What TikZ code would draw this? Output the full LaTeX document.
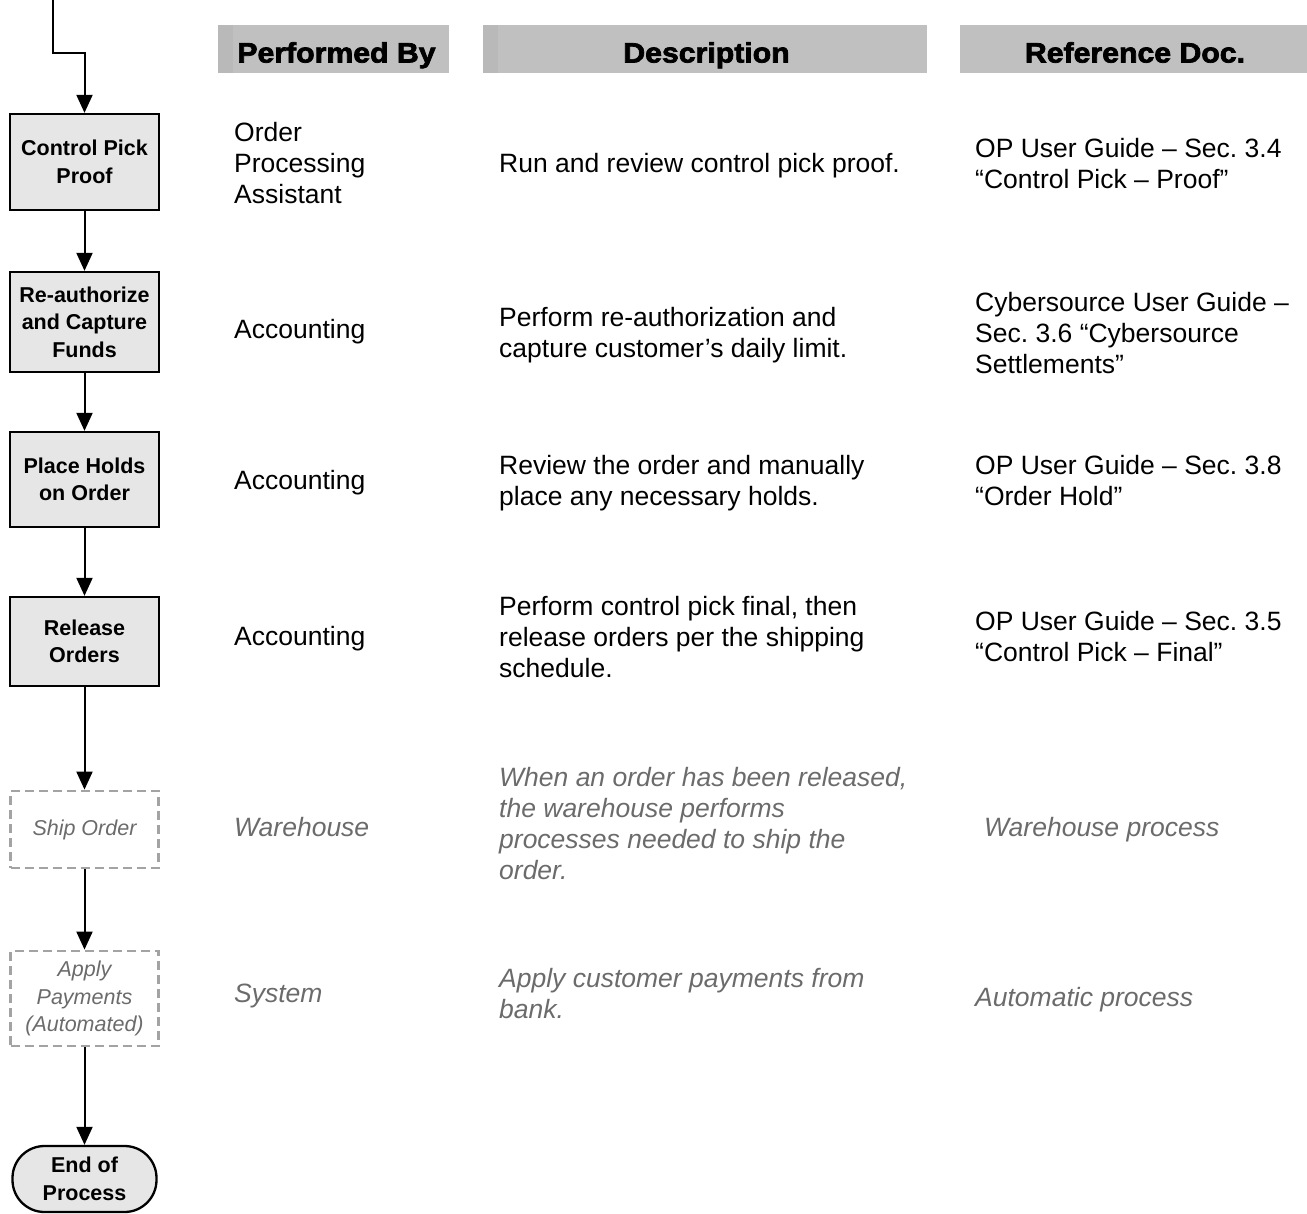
\documentclass[tikz,border=0pt]{standalone}
\usepackage{fontspec}
\setmainfont{Liberation Sans}
\newfontfamily\hdrfont[FakeBold=2.6,FakeStretch=1.08]{Liberation Sans Bold}
\usetikzlibrary{arrows.meta}

\definecolor{boxfill}{HTML}{E6E6E6}
\definecolor{hdrgray}{HTML}{C0C0C0}
\definecolor{hdrstrip}{HTML}{B9B9B9}
\definecolor{softtext}{HTML}{6B6B6B}
\definecolor{dashgray}{HTML}{A3A3A3}

\frenchspacing
\begin{document}
\begin{tikzpicture}[x=1pt,y=-1pt,
  stepbox/.style={draw=black, line width=2.3pt, fill=boxfill,
    minimum width=149pt, minimum height=#1, inner sep=0pt, align=center,
    font=\fontsize{21.5}{27.5}\selectfont\bfseries},
  autobox/.style={draw=dashgray, line width=2.8pt, dash pattern=on 9pt off 5pt,
    minimum width=148pt, minimum height=#1, inner sep=0pt, align=center,
    text=softtext, font=\fontsize{21.5}{27.5}\selectfont\itshape},
  endbox/.style={draw=black, line width=2.3pt, fill=boxfill, rounded corners=32pt,
    minimum width=144pt, minimum height=66pt, inner sep=0pt, align=center,
    font=\fontsize{21.5}{27.5}\selectfont\bfseries},
  flow/.style={line width=2pt, -{Triangle[width=16pt,length=18pt]}},
  hdrtext/.style={font=\hdrfont\fontsize{28}{32}\selectfont, inner sep=0pt, anchor=base},
  cell/.style={anchor=west, align=left, inner sep=0pt,
    font=\fontsize{26.5}{31}\selectfont},
  softcell/.style={cell, text=softtext, font=\fontsize{26.5}{31}\selectfont\itshape}
]
\useasboundingbox (0,0) rectangle (1307,1214);

% column header bars
\fill[hdrgray] (218,25) rectangle (449,73);
\fill[hdrstrip] (218,25) rectangle (233,73);
\fill[hdrgray] (483,25) rectangle (927,73);
\fill[hdrstrip] (483,25) rectangle (498,73);
\fill[hdrgray] (960,25) rectangle (1307,73);
\node[hdrtext] (hPerf) at (336.5,62.5) {Performed By};
\node[hdrtext] (hDesc) at (706.5,62.5) {Description};
\node[hdrtext] (hRef)  at (1135,62.5) {Reference Doc.};

% process steps
\node[stepbox=96pt]  (b1) at (84.5,162)   {Control Pick\\Proof};
\node[stepbox=100pt] (b2) at (84.5,322)   {Re-authorize\\and Capture\\Funds};
\node[stepbox=95pt]  (b3) at (84.5,479.5) {Place Holds\\on Order};
\node[stepbox=89pt]  (b4) at (84.5,641.5) {Release\\Orders};
\node[autobox=77pt]  (b5) at (84.5,829.5) {\raisebox{-2pt}{Ship Order}};
\node[autobox=95pt]  (b6) at (84.5,998.5) {Apply\\Payments\\(Automated)};
\node[endbox]        (b7) at (84.5,1179)  {End of\\Process};

% connectors
\coordinate (entry) at (53,0);
\coordinate (jog) at (84.5,53);
\draw[flow] (entry) |- (jog) -- (b1);
\draw[flow] (b1) -- (b2);
\draw[flow] (b2) -- (b3);
\draw[flow] (b3) -- (b4);
\draw[flow] (b4) -- (b5);
\draw[flow] (b5) -- (b6);
\draw[flow] (b6) -- (b7);

% performed by
\node[cell] (p1) at (234,163.5) {Order\\Processing\\Assistant};
\node[cell] (p2) at (234,332) {Accounting};
\node[cell] (p3) at (234,483) {Accounting};
\node[cell] (p4) at (234,639) {Accounting};
\node[softcell] (p5) at (234,827) {Warehouse};
\node[softcell] (p6) at (234,996) {System};

% descriptions
\node[cell] (d1) at (499,166) {Run and review control pick proof.};
\node[cell] (d2) at (499,335.5) {Perform re-authorization and\\capture customer’s daily limit.};
\node[cell] (d3) at (499,483.5) {Review the order and manually\\place any necessary holds.};
\node[cell] (d4) at (499,637) {Perform control pick final, then\\release orders per the shipping\\schedule.};
\node[softcell] (d5) at (499,823.5) {When an order has been released,\\the warehouse performs\\processes needed to ship the\\order.};
\node[softcell] (d6) at (499,993.5) {Apply customer payments from\\bank.};

% reference documents
\node[cell] (r1) at (975,163.5) {OP User Guide – Sec. 3.4\\“Control Pick – Proof”};
\node[cell] (r2) at (975,333.5) {Cybersource User Guide –\\Sec. 3.6 “Cybersource\\Settlements”};
\node[cell] (r3) at (975,480.5) {OP User Guide – Sec. 3.8\\“Order Hold”};
\node[cell] (r4) at (975,636.5) {OP User Guide – Sec. 3.5\\“Control Pick – Final”};
\node[softcell] (r5) at (984,830) {Warehouse process};
\node[softcell] (r6) at (975,1000) {Automatic process};
\end{tikzpicture}
\end{document}
